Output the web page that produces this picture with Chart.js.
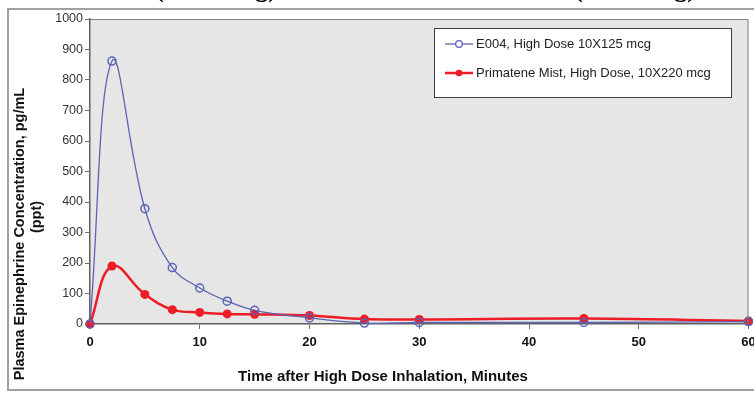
<!DOCTYPE html>
<html>
<head>
<meta charset="utf-8">
<script src="https://cdn.jsdelivr.net/npm/chart.js@4.4.1/dist/chart.umd.min.js"></script>
<style>
html,body{margin:0;padding:0;background:#fff;}
#wrap{width:754px;height:394px;position:relative;}
</style>
</head>
<body>
<div id="wrap"><canvas id="c" width="754" height="394"></canvas></div>
<script>
// ---- data ----
const times = [0, 2, 5, 7.5, 10, 12.5, 15, 20, 25, 30, 45, 60];
const e004 = [0, 862, 378, 185, 118, 75, 45, 20, 3, 5, 5, 8];
const primatene = [0, 190, 97, 47, 38, 33, 32, 28, 16, 15, 18, 10];
const seriesNames = ["E004, High Dose 10X125 mcg", "Primatene Mist, High Dose, 10X220 mcg"];
const xTicks = [0, 10, 20, 30, 40, 50, 60];
const yTicks = [0, 100, 200, 300, 400, 500, 600, 700, 800, 900, 1000];
const xTitle = "Time after High Dose Inhalation, Minutes";
const yTitle = ["Plasma Epinephrine Concentration, pg/mL", "(ppt)"];
const topFragments = ["(1250 mcg)", "(2200 mcg)"];

const BLUE = '#5b63b5';
const RED = '#ee1c25';

const pts = (ys) => times.map((t, i) => ({x: t, y: ys[i]}));

const decor = {
  id: 'decor',
  beforeDraw(chart) {
    const ctx = chart.ctx, a = chart.chartArea;
    ctx.save();
    ctx.fillStyle = '#fff';
    ctx.fillRect(0, 0, chart.width, chart.height);
    // outer frame
    ctx.strokeStyle = '#a0a0a0';
    ctx.lineWidth = 2;
    ctx.strokeRect(8, 9, 760, 381);
    // plot background
    ctx.fillStyle = '#e6e6e6';
    ctx.fillRect(a.left, a.top, a.right - a.left, a.bottom - a.top);
    // title fragments at top (cut off)
    ctx.fillStyle = '#000';
    ctx.font = 'bold 26px "Liberation Serif"';
    ctx.textBaseline = 'alphabetic';
    ctx.textAlign = 'left';
    ctx.fillText(topFragments[0], 155, -3.5);
    ctx.fillText(topFragments[1], 574, -3.5);
    ctx.restore();
  },
  afterDraw(chart) {
    const ctx = chart.ctx, a = chart.chartArea;
    ctx.save();
    // plot border top/right
    ctx.strokeStyle = '#808080';
    ctx.lineWidth = 1;
    ctx.beginPath();
    ctx.moveTo(a.left, a.top + 0.5);
    ctx.lineTo(a.right - 0.5, a.top + 0.5);
    ctx.lineTo(a.right - 0.5, a.bottom);
    ctx.stroke();
    // legend
    const lx = 434.5, ly = 28.5, lw = 297, lh = 69;
    ctx.fillStyle = '#fff';
    ctx.fillRect(lx, ly, lw, lh);
    ctx.strokeStyle = '#404040';
    ctx.strokeRect(lx, ly, lw, lh);
    const rows = [
      {y: 44, color: BLUE, lw: 1.3, fill: false, text: seriesNames[0]},
      {y: 73, color: RED, lw: 2.5, fill: true, text: seriesNames[1]}
    ];
    ctx.font = '13px "Liberation Sans"';
    ctx.textBaseline = 'middle';
    ctx.textAlign = 'left';
    rows.forEach(r => {
      ctx.strokeStyle = r.color;
      ctx.lineWidth = r.lw;
      ctx.beginPath();
      ctx.moveTo(445, r.y);
      ctx.lineTo(473, r.y);
      ctx.stroke();
      ctx.beginPath();
      ctx.arc(459, r.y, 3.3, 0, Math.PI * 2);
      if (r.fill) { ctx.fillStyle = r.color; ctx.fill(); }
      else { ctx.fillStyle = '#fff'; ctx.fill(); ctx.lineWidth = 1.3; ctx.stroke(); }
      ctx.fillStyle = '#222';
      ctx.fillText(r.text, 476, r.y + 0.5);
    });
    // x title
    ctx.fillStyle = '#111';
    ctx.font = 'bold 15px "Liberation Sans"';
    ctx.textAlign = 'center';
    ctx.textBaseline = 'middle';
    ctx.fillText(xTitle, 383, 377);
    // y title
    ctx.font = 'bold 14.5px "Liberation Sans"';
    ctx.translate(20, 234);
    ctx.rotate(-Math.PI / 2);
    ctx.fillText(yTitle[0], 0, 0);
    ctx.fillText(yTitle[1], 17, 17);
    ctx.restore();
  }
};

new Chart(document.getElementById('c'), {
  type: 'line',
  data: {
    datasets: [
      {
        label: seriesNames[0],
        data: pts(e004),
        borderColor: BLUE,
        borderWidth: 1.3,
        pointStyle: 'circle',
        pointRadius: 4,
        pointBorderWidth: 1.5,
        pointBorderColor: BLUE,
        pointBackgroundColor: 'rgba(0,0,0,0)',
        tension: 0.4,
        clip: false
      },
      {
        label: seriesNames[1],
        data: pts(primatene),
        borderColor: RED,
        borderWidth: 2.5,
        pointStyle: 'circle',
        pointRadius: 4.5,
        pointBorderWidth: 0,
        pointBackgroundColor: RED,
        tension: 0.4,
        clip: false
      }
    ]
  },
  options: {
    responsive: false,
    animation: false,
    layout: {padding: {top: 19, right: 2, bottom: 0, left: 0}},
    plugins: {legend: {display: false}, tooltip: {enabled: false}, title: {display: false}},
    scales: {
      x: {
        type: 'linear',
        min: 0, max: 60,
        afterBuildTicks: (s) => { s.ticks = xTicks.map(v => ({value: v})); },
        afterFit: (s) => { s.height = 70; s.paddingLeft = 0; s.paddingRight = 0; },
        grid: {drawOnChartArea: false, drawTicks: true, tickLength: 5, color: '#707070'},
        border: {color: '#606060', width: 1.5},
        ticks: {color: '#111', font: {family: 'Liberation Sans', size: 13, weight: 'bold'}, padding: 6, maxRotation: 0,
                callback: (v) => String(v)}
      },
      y: {
        min: 0, max: 1000,
        afterBuildTicks: (s) => { s.ticks = yTicks.map(v => ({value: v})); },
        afterFit: (s) => { s.width = 90; s.paddingTop = 0; s.paddingBottom = 0; },
        grid: {drawOnChartArea: false, drawTicks: true, tickLength: 5, color: '#707070'},
        border: {color: '#606060', width: 1.5},
        ticks: {color: '#333', font: {family: 'Liberation Sans', size: 12.5}, padding: 2,
                callback: (v) => String(v)}
      }
    }
  },
  plugins: [decor]
});
</script>
</body>
</html>
